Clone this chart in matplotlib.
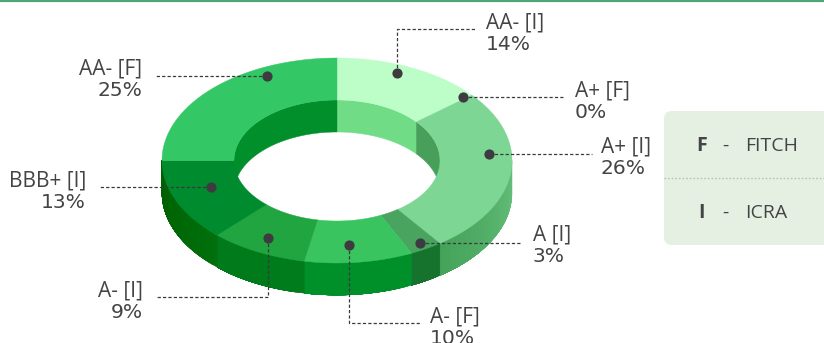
import numpy as np
import matplotlib
matplotlib.use("Agg")
import matplotlib.pyplot as plt
from matplotlib.patches import FancyBboxPatch
from matplotlib.colors import to_rgb

labels = ["AA- [I]", "A+ [F]", "A+ [I]", "A [I]", "A- [F]", "A- [I]", "BBB+ [I]", "AA- [F]"]
shares = [14, 0, 26, 3, 10, 9, 13, 25]

top_colors = ["#bdfdc8", "#7ed694", "#7ed694", "#48a45f", "#3ac460", "#20a541", "#008c2e", "#33c765"]
inner_colors = ["#70dc85", "#479f5a", "#479f5a", "#479f5a", "#00902a", "#007a1a", "#008f2b", "#008f2b"]
outer_from = ["#45a35a", "#45a35a", "#66c07c", "#16732e", "#00902a", "#007c1c", "#006f0c", "#006400"]
outer_to = ["#45a35a", "#45a35a", "#45a35a", "#16732e", "#00902a", "#007a1a", "#005f00", "#006400"]

# ring geometry in pixels
CX, CY = 337, 160.5
RX, RY = 175, 102.5
IN_RX, IN_RY = 103, 60.5
DEPTH = 32

# where each callout dot sits: offset along the ring (in %) and radial fraction
dot_shift = [-0.9, -0.3, -3.2, 0.0, 0.7, 0.1, 1.0, 5.3]
dot_radius = [0.92, 0.95, 0.871, 0.934, 0.827, 0.853, 0.765, 0.916]

# leader ends and text anchors
leader_ends = [(475, 29), (565, 97), (592, 154), (522, 243), (420, 323), (156, 297), (100, 187), (155, 76)]
leader_vertical = [True, False, False, False, True, True, False, False]
text_x = [486, 575, 601, 533, 430, 143, 86, 142]
text_ha = ["left", "left", "left", "left", "left", "right", "right", "right"]
text_base = [28, 96, 153, 241, 323, 296, 186, 75]

FONT = "Open Sans"
TEXT = "#444444"


def ellipse(pct, rx, ry, dy=0):
    t = np.radians(np.asarray(pct, dtype=float) * 3.6)
    return CX + rx * np.sin(t), CY + dy - ry * np.cos(t)


def band(a, b, rx, ry, color, rx2=None, ry2=None, dy=0):
    seg = np.linspace(a, b, 120)
    x, y = ellipse(seg, rx, ry)
    x2, y2 = ellipse(seg[::-1], rx2 or rx, ry2 or ry, dy)
    ax.fill(np.r_[x, x2], np.r_[y, y2], color=color, lw=0.3)


fig = plt.figure(figsize=(8.24, 3.43), dpi=100)
ax = fig.add_axes([0, 0, 1, 1])
ax.set_xlim(0, 824)
ax.set_ylim(343, 0)
ax.axis("off")

edges = np.concatenate([[0], np.cumsum(shares)])

# outer wall, front half only; each step overpaints the rest of the wedge so no seams show
for i in range(len(shares)):
    a, b = max(edges[i], 25), min(edges[i + 1], 75)
    if b <= a:
        continue
    c0, c1 = np.array(to_rgb(outer_from[i])), np.array(to_rgb(outer_to[i]))
    steps = np.linspace(a, b, 24, endpoint=False)
    for j, s in enumerate(steps):
        band(s, b, RX, RY, c0 + (c1 - c0) * j / 23, dy=DEPTH)

# inner wall, back half of the hole
for i in range(len(shares)):
    for a, b in [(edges[i], min(edges[i + 1], 25)), (max(edges[i], 75), edges[i + 1])]:
        if b > a:
            band(a, b, IN_RX, IN_RY, inner_colors[i], dy=DEPTH)

# top face
for i in range(len(shares)):
    if shares[i] > 0:
        band(edges[i], edges[i + 1], RX, RY, top_colors[i], IN_RX, IN_RY)

# callouts
for i, name in enumerate(labels):
    mid = (edges[i] + edges[i + 1]) / 2 + dot_shift[i]
    t = np.radians(mid * 3.6)
    dx = CX + dot_radius[i] * RX * np.sin(t)
    dy = CY - dot_radius[i] * RY * np.cos(t)
    ex, ey = leader_ends[i]
    if leader_vertical[i]:
        px, py = [dx, dx, ex], [dy, ey, ey]
    else:
        px, py = [dx, ex], [dy, dy]
    ax.plot(px, py, color="#3a3a3a", lw=0.9, ls=(0, (2.6, 1.7)), zorder=4)
    ax.scatter([dx], [dy], s=54, color="#3d3b40", lw=0, zorder=5)
    ax.text(text_x[i], text_base[i], name, ha=text_ha[i], va="baseline", family=FONT,
            fontsize=15, color=TEXT, zorder=6)
    ax.text(text_x[i], text_base[i] + 21.5, f"{shares[i]}%", ha=text_ha[i], va="baseline",
            family="DejaVu Sans", fontsize=14.6, color=TEXT, zorder=6)

# top rule
ax.plot([0, 824], [0.5, 0.5], color="#4fa678", lw=1.6)

# key panel
panel = FancyBboxPatch((670, 117), 200, 122, boxstyle="round,pad=6,rounding_size=8",
                       fc="#e5f0e3", ec="#e5f0e3", lw=0)
ax.add_patch(panel)
ax.plot([664, 824], [178, 178], color="#b7c4b4", lw=1, ls=(0, (1.2, 1.4)))
key_rows = [("F", "FITCH", 151), ("I", "ICRA", 218)]
for letter, agency, y in key_rows:
    ax.text(702, y, letter, ha="center", va="baseline", family=FONT, fontsize=14,
            fontweight="bold", color=TEXT)
    ax.text(725, y, "-", ha="center", va="baseline", family=FONT, fontsize=14, color=TEXT)
    ax.text(745, y, agency, ha="left", va="baseline", family=FONT, fontsize=14, color=TEXT)

fig.savefig("out.png", dpi=100, facecolor="white")
